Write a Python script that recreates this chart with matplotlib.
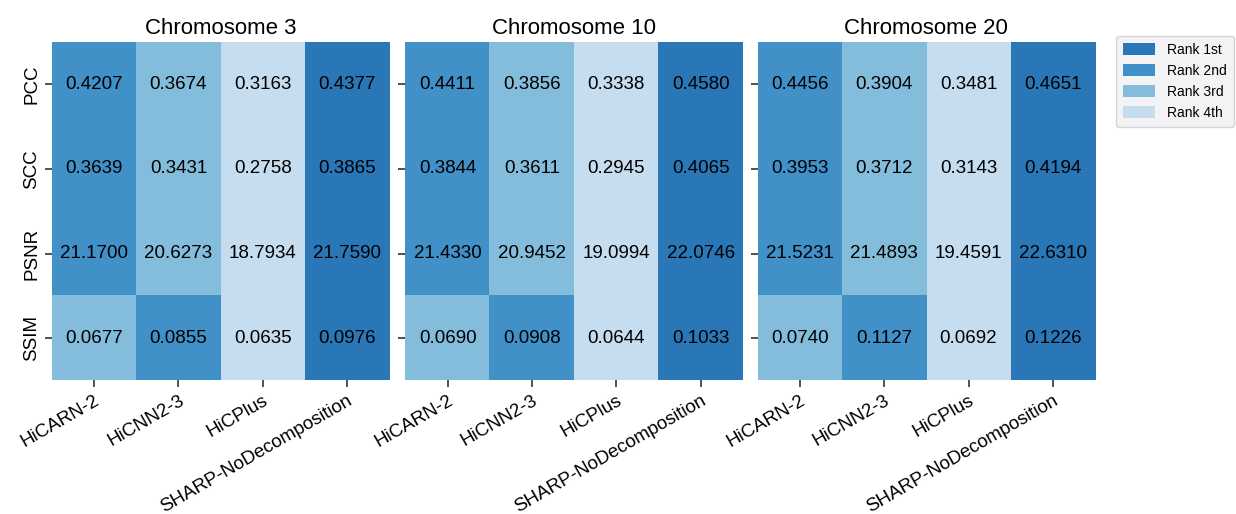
import matplotlib.pyplot as plt
import numpy as np
from matplotlib.colors import ListedColormap
from matplotlib.patches import Patch

plt.rcParams['font.family'] = ['Liberation Sans', 'DejaVu Sans']

methods = ["HiCARN-2", "HiCNN2-3", "HiCPlus", "SHARP-NoDecomposition"]
metrics = ["PCC", "SCC", "PSNR", "SSIM"]
chromosomes = ["Chromosome 3", "Chromosome 10", "Chromosome 20"]

chr3 = [[0.4207, 0.3674, 0.3163, 0.4377],
        [0.3639, 0.3431, 0.2758, 0.3865],
        [21.1700, 20.6273, 18.7934, 21.7590],
        [0.0677, 0.0855, 0.0635, 0.0976]]
chr10 = [[0.4411, 0.3856, 0.3338, 0.4580],
         [0.3844, 0.3611, 0.2945, 0.4065],
         [21.4330, 20.9452, 19.0994, 22.0746],
         [0.0690, 0.0908, 0.0644, 0.1033]]
chr20 = [[0.4456, 0.3904, 0.3481, 0.4651],
         [0.3953, 0.3712, 0.3143, 0.4194],
         [21.5231, 21.4893, 19.4591, 22.6310],
         [0.0740, 0.1127, 0.0692, 0.1226]]

rank_names = ["Rank 1st", "Rank 2nd", "Rank 3rd", "Rank 4th"]
rank_colors = ["#2a77b7", "#4190c8", "#84bcdb", "#c6dcef"]
cmap = ListedColormap(rank_colors)

fig = plt.figure(figsize=(12.36, 5.14), dpi=100)
lefts = [0.042, 0.328, 0.613]
width = 0.273

for i, (name, data) in enumerate(zip(chromosomes, [chr3, chr10, chr20])):
    vals = np.array(data)
    # rank 0 = best (largest value) in each row
    ranks = np.argsort(np.argsort(-vals, axis=1), axis=1)
    ax = fig.add_axes([lefts[i], 0.26, width, 0.658])
    ax.imshow(ranks, cmap=cmap, vmin=-0.5, vmax=3.5, aspect="auto")
    for r in range(vals.shape[0]):
        for c in range(vals.shape[1]):
            ax.text(c, r, f"{vals[r, c]:.4f}", ha="center", va="center",
                    fontsize=13.5, color="black")
    ax.set_title(name, fontsize=16)
    ax.set_xticks(range(len(methods)))
    ax.set_xticklabels(methods, rotation=30, ha="right", fontsize=13.5,
                       rotation_mode="anchor")
    ax.set_yticks(range(len(metrics)))
    if i == 0:
        ax.set_yticklabels(metrics, rotation=90, va="center", fontsize=13.5)
    else:
        ax.set_yticklabels([])
    for s in ax.spines.values():
        s.set_visible(False)
    ax.tick_params(length=5, width=1.2, color="#333333")

handles = [Patch(facecolor=c, label=l) for c, l in zip(rank_colors, rank_names)]
fig.legend(handles=handles, loc="upper left", bbox_to_anchor=(0.903, 0.93),
           borderaxespad=0, fontsize=10, frameon=True, facecolor="#f0f0f4",
           edgecolor="#cccccc", handlelength=2.3, handleheight=0.9,
           handletextpad=0.9, borderpad=0.5)

plt.savefig("out.png", dpi=100)
